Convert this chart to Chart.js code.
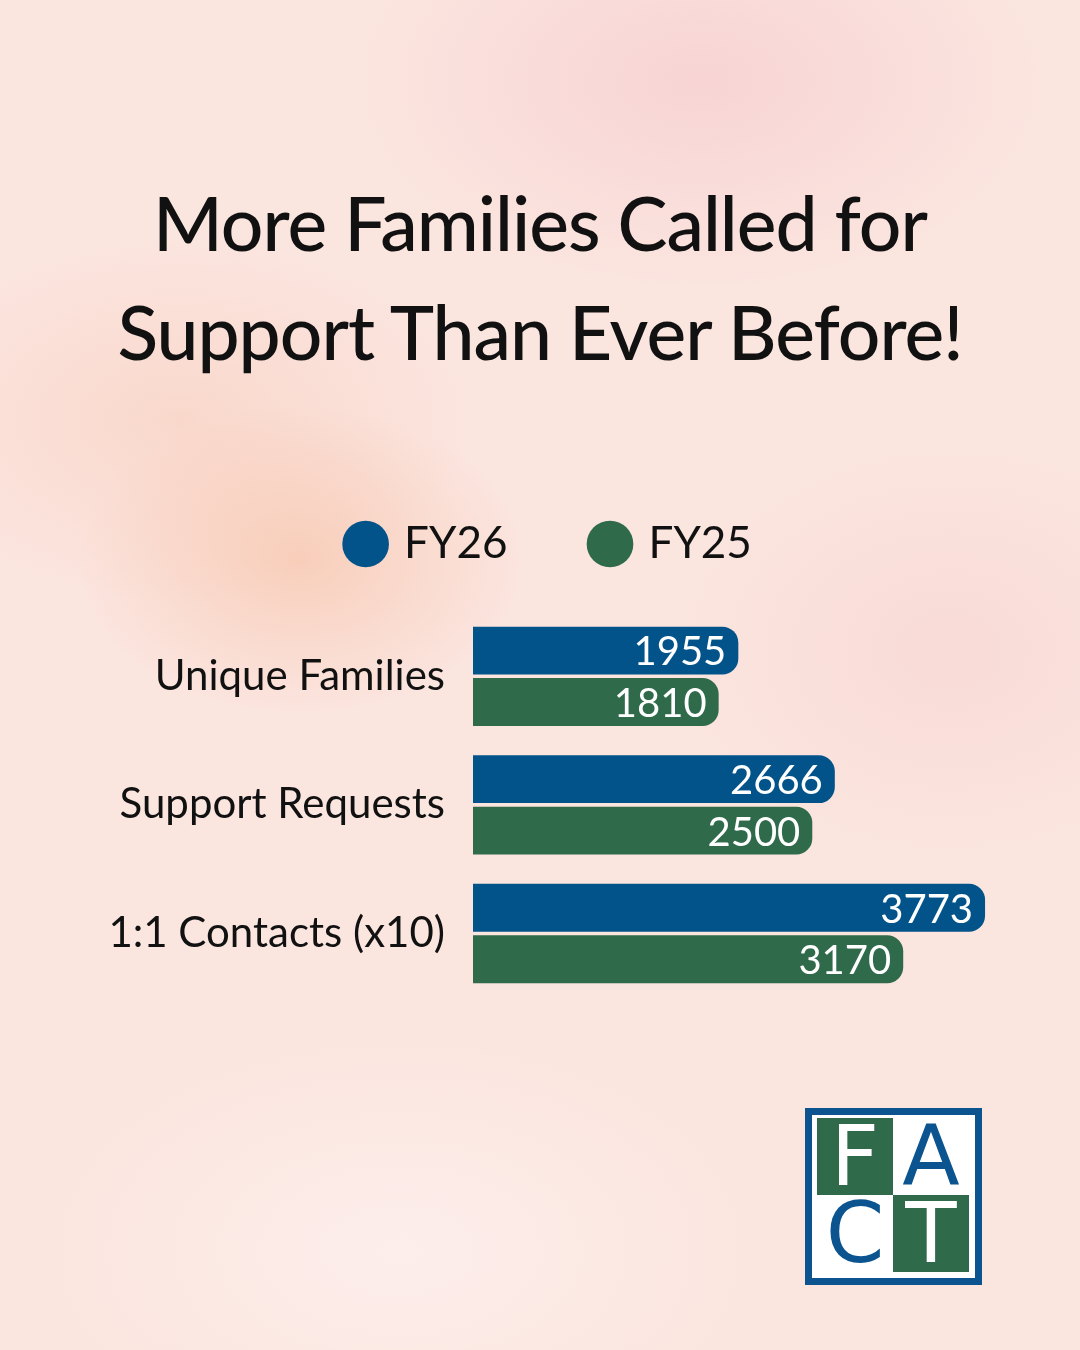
<!DOCTYPE html>
<html>
<head>
<meta charset="utf-8">
<script src="https://cdn.jsdelivr.net/npm/chart.js@4/dist/chart.umd.min.js"></script>
<style>
  html, body { margin: 0; padding: 0; }
  body {
    width: 1080px; height: 1350px; position: relative; overflow: hidden;
    font-family: Lato, "Noto Sans", sans-serif;
    background:
      radial-gradient(ellipse 320px 220px at 300px 560px, rgba(246,188,158,0.55), rgba(246,188,158,0) 70%),
      radial-gradient(ellipse 420px 260px at 180px 420px, rgba(247,200,180,0.45), rgba(247,200,180,0) 70%),
      radial-gradient(ellipse 500px 300px at 700px 80px, rgba(245,200,205,0.6), rgba(245,200,205,0) 70%),
      radial-gradient(ellipse 400px 300px at 950px 650px, rgba(245,205,205,0.45), rgba(245,205,205,0) 70%),
      radial-gradient(ellipse 500px 300px at 400px 1250px, rgba(253,240,238,0.8), rgba(253,240,238,0) 70%),
      #fbe5df;
  }
  #title {
    position: absolute; left: 0; top: 168px; width: 1080px;
    text-align: center; color: #111; font-size: 75px; line-height: 109px;
    font-weight: 500; letter-spacing: -1px;
  }
  #wrap { position: absolute; left: 0; top: 436px; width: 1080px; height: 607px; }
  #logo {
    position: absolute; left: 805px; top: 1108px; width: 157px; height: 157px;
    border: 7px solid #0b5490; background: #fff; padding: 3px;
  }
  #logo div {
    position: absolute; width: 76px; height: 77px;
    font-family: "DejaVu Sans", sans-serif; font-size: 84px; line-height: 77px; text-align: center;
  }
</style>
</head>
<body>
<div id="title">More Families Called for<br>Support Than Ever Before!</div>
<div id="wrap"><canvas id="chart"></canvas></div>
<div id="logo">
  <div style="left:5px;top:3px;background:#2f6b4b;color:#fff;">F</div>
  <div style="left:81px;top:3px;color:#0b5490;">A</div>
  <div style="left:5px;top:80px;color:#0b5490;">C</div>
  <div style="left:81px;top:80px;background:#2f6b4b;color:#fff;">T</div>
</div>
<script>
// datos
const categories = ['Unique Families', 'Support Requests', '1:1 Contacts (x10)'];
const fy26 = [1955, 2666, 3773];
const fy25 = [1810, 2500, 3170];
const seriesNames = ['FY26', 'FY25'];

const BLUE = '#03538b';
const GREEN = '#2f6a4b';

// etiquetas blancas dentro de cada barra
const valueLabels = {
  id: 'valueLabels',
  afterDatasetsDraw(chart) {
    const ctx = chart.ctx;
    ctx.save();
    ctx.font = '40px Lato';
    ctx.fillStyle = '#fff';
    ctx.textAlign = 'right';
    ctx.textBaseline = 'middle';
    chart.data.datasets.forEach((ds, i) => {
      chart.getDatasetMeta(i).data.forEach((bar, j) => {
        ctx.fillText(ds.data[j], bar.x - 12, bar.y + 2);
      });
    });
    ctx.restore();
  }
};

// deja espacio fijo debajo de la leyenda
const legendGap = {
  id: 'legendGap',
  beforeInit(chart) {
    const fit = chart.legend.fit;
    chart.legend.fit = function () {
      fit.bind(this)();
      this.height = 176;
    };
  }
};

const barStyle = {
  borderRadius: { topRight: 16, bottomRight: 16, topLeft: 0, bottomLeft: 0 },
  borderSkipped: false,
  barPercentage: 0.93,
  categoryPercentage: 0.8
};

new Chart(document.getElementById('chart'), {
  type: 'bar',
  data: {
    labels: categories,
    datasets: [
      { label: seriesNames[0], data: fy26, backgroundColor: BLUE, ...barStyle },
      { label: seriesNames[1], data: fy25, backgroundColor: GREEN, ...barStyle }
    ]
  },
  plugins: [legendGap, valueLabels],
  options: {
    indexAxis: 'y',
    responsive: true,
    maintainAspectRatio: false,
    animation: false,
    layout: { padding: { left: 58, right: 37, top: 0, bottom: 11 } },
    plugins: {
      tooltip: { enabled: false },
      legend: {
        display: true,
        position: 'top',
        labels: {
          usePointStyle: true,
          pointStyle: 'circle',
          boxWidth: 33,
          boxHeight: 33,
          padding: 86,
          color: '#111',
          font: { family: 'Lato', size: 44 }
        }
      }
    },
    scales: {
      x: { display: false, min: 0, max: 4200 },
      y: {
        grid: { display: false },
        border: { display: false },
        afterFit(scale) { scale.width = 415; },
        ticks: {
          padding: 20,
          color: '#111',
          font: { family: 'Lato', size: 42 }
        }
      }
    }
  }
});
</script>
</body>
</html>
